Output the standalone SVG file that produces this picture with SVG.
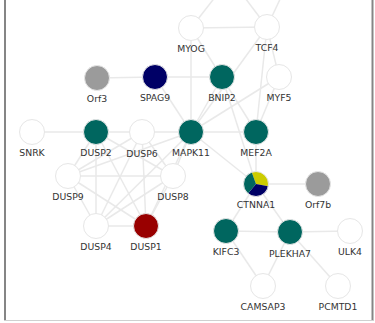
<svg xmlns="http://www.w3.org/2000/svg" width="375" height="323" viewBox="0 0 375 323">
<style>
.e{stroke:#e9e9e9;stroke-width:1.5;fill:none}
.n{stroke:#e6e6e6;stroke-width:1}
.w{fill:#ffffff}
.t{fill:#00665f}
.b{fill:#000066}
.r{fill:#990000}
.g{fill:#9b9b9b}
text{font-family:"DejaVu Sans",Verdana,sans-serif;font-size:9.3px;fill:#333;text-anchor:middle}
</style>
<rect width="375" height="323" fill="#fff"/>
<g id="frame">
<line x1="5" y1="0" x2="5" y2="321" stroke="#858585" stroke-width="2"/>
<line x1="372.5" y1="0" x2="372.5" y2="321" stroke="#858585" stroke-width="2"/>
<line x1="4" y1="320.5" x2="374" y2="320.5" stroke="#d0d0d0" stroke-width="1"/>
</g>
<g id="connectors" class="e">
<line x1="230" y1="-22" x2="191" y2="28"/>
<line x1="230" y1="-22" x2="267" y2="27"/>
<line x1="290" y1="-22" x2="267" y2="27"/>
<line x1="191" y1="28" x2="267" y2="27"/>
<line x1="191" y1="28" x2="191" y2="132"/>
<line x1="191" y1="28" x2="256" y2="132"/>
<line x1="267" y1="27" x2="279" y2="77"/>
<line x1="267" y1="27" x2="256" y2="132"/>
<line x1="267" y1="27" x2="191" y2="132"/>
<line x1="97" y1="78" x2="155" y2="77"/>
<line x1="155" y1="77" x2="222" y2="77"/>
<line x1="155" y1="77" x2="191" y2="132"/>
<line x1="222" y1="77" x2="191" y2="132"/>
<line x1="222" y1="77" x2="256" y2="184"/>
<line x1="279" y1="77" x2="191" y2="132"/>
<line x1="279" y1="77" x2="256" y2="132"/>
<line x1="32" y1="132" x2="96" y2="132"/>
<line x1="96" y1="132" x2="142" y2="132"/>
<line x1="142" y1="132" x2="191" y2="132"/>
<line x1="191" y1="132" x2="256" y2="132"/>
<line x1="191" y1="132" x2="256" y2="184"/>
<line x1="256" y1="132" x2="256" y2="184"/>
<line x1="96" y1="132" x2="68" y2="176"/>
<line x1="96" y1="132" x2="173" y2="176"/>
<line x1="96" y1="132" x2="96" y2="226"/>
<line x1="96" y1="132" x2="146" y2="226"/>
<line x1="142" y1="132" x2="68" y2="176"/>
<line x1="142" y1="132" x2="173" y2="176"/>
<line x1="142" y1="132" x2="96" y2="226"/>
<line x1="142" y1="132" x2="146" y2="226"/>
<line x1="68" y1="176" x2="173" y2="176"/>
<line x1="68" y1="176" x2="96" y2="226"/>
<line x1="68" y1="176" x2="146" y2="226"/>
<line x1="173" y1="176" x2="96" y2="226"/>
<line x1="173" y1="176" x2="146" y2="226"/>
<line x1="96" y1="226" x2="146" y2="226"/>
<line x1="191" y1="132" x2="68" y2="176"/>
<line x1="191" y1="132" x2="96" y2="226"/>
<line x1="191" y1="132" x2="173" y2="176"/>
<line x1="191" y1="132" x2="146" y2="226"/>
<line x1="256" y1="184" x2="318" y2="184"/>
<line x1="256" y1="184" x2="226" y2="231"/>
<line x1="256" y1="184" x2="290" y2="232"/>
<line x1="226" y1="231" x2="290" y2="232"/>
<line x1="290" y1="232" x2="350" y2="231"/>
<line x1="226" y1="231" x2="263" y2="286"/>
<line x1="290" y1="232" x2="263" y2="286"/>
<line x1="290" y1="232" x2="338" y2="286"/>
</g>
<g id="MYOG"><circle class="n w" cx="191" cy="28" r="12.5"/><text x="191" y="52">MYOG</text></g>
<g id="TCF4"><circle class="n w" cx="267" cy="27" r="12.5"/><text x="267" y="51">TCF4</text></g>
<g id="Orf3"><circle class="n g" cx="97" cy="78" r="12.5"/><text x="97" y="102">Orf3</text></g>
<g id="SPAG9"><circle class="n b" cx="155" cy="77" r="12.5"/><text x="155" y="101">SPAG9</text></g>
<g id="BNIP2"><circle class="n t" cx="222" cy="77" r="12.5"/><text x="222" y="101">BNIP2</text></g>
<g id="MYF5"><circle class="n w" cx="279" cy="77" r="12.5"/><text x="279" y="101">MYF5</text></g>
<g id="SNRK"><circle class="n w" cx="32" cy="132" r="12.5"/><text x="32" y="156">SNRK</text></g>
<g id="DUSP2"><circle class="n t" cx="96" cy="132" r="12.5"/><text x="96" y="156">DUSP2</text></g>
<g id="DUSP6"><circle class="n w" cx="142" cy="132" r="12.5"/><text x="142" y="156.5">DUSP6</text></g>
<g id="MAPK11"><circle class="n t" cx="191" cy="132" r="12.5"/><text x="191" y="156">MAPK11</text></g>
<g id="MEF2A"><circle class="n t" cx="256" cy="132" r="12.5"/><text x="256" y="156">MEF2A</text></g>
<g id="DUSP9"><circle class="n w" cx="68" cy="176" r="12.5"/><text x="68" y="200">DUSP9</text></g>
<g id="DUSP8"><circle class="n w" cx="173" cy="176" r="12.5"/><text x="173" y="200">DUSP8</text></g>
<g id="CTNNA1">
<path d="M256 184 L251.72 172.25 A12.5 12.5 0 0 1 268.31 186.17 Z" fill="#cccc00"/>
<path d="M256 184 L268.31 186.17 A12.5 12.5 0 0 1 247.96 193.58 Z" fill="#000066"/>
<path d="M256 184 L247.96 193.58 A12.5 12.5 0 0 1 251.72 172.25 Z" fill="#00665f"/>
<circle cx="256" cy="184" r="12.5" fill="none" stroke="#e6e6e6" stroke-width="1"/>
<text x="256" y="208">CTNNA1</text></g>
<g id="Orf7b"><circle class="n g" cx="318" cy="184" r="12.5"/><text x="318" y="208">Orf7b</text></g>
<g id="DUSP4"><circle class="n w" cx="96" cy="226" r="12.5"/><text x="96" y="250">DUSP4</text></g>
<g id="DUSP1"><circle class="n r" cx="146" cy="226" r="12.5"/><text x="146" y="250">DUSP1</text></g>
<g id="KIFC3"><circle class="n t" cx="226" cy="231" r="12.5"/><text x="226" y="255">KIFC3</text></g>
<g id="PLEKHA7"><circle class="n t" cx="290" cy="232" r="12.5"/><text x="290" y="256.5">PLEKHA7</text></g>
<g id="ULK4"><circle class="n w" cx="350" cy="231" r="12.5"/><text x="350" y="255">ULK4</text></g>
<g id="CAMSAP3"><circle class="n w" cx="263" cy="286" r="12.5"/><text x="263" y="310">CAMSAP3</text></g>
<g id="PCMTD1"><circle class="n w" cx="338" cy="286" r="12.5"/><text x="338" y="310">PCMTD1</text></g>
</svg>
